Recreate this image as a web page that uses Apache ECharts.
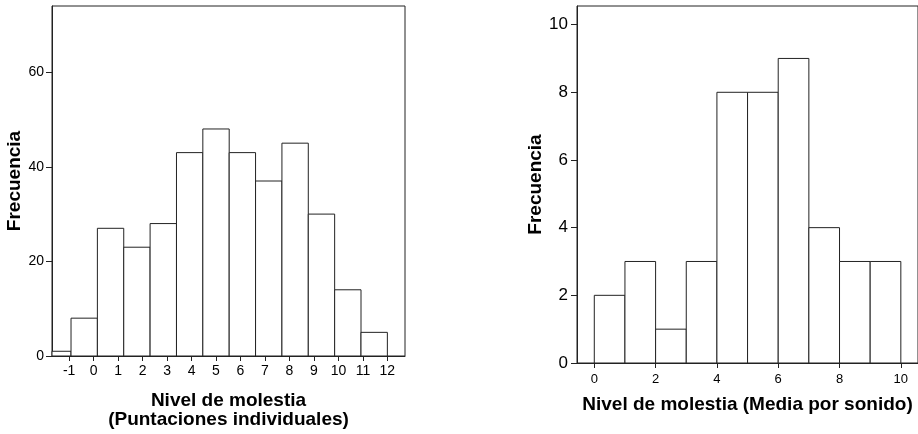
<!DOCTYPE html>
<html>
<head>
<meta charset="utf-8">
<script src="https://cdn.jsdelivr.net/npm/echarts@6/dist/echarts.min.js"></script>
<style>
  html, body { margin: 0; padding: 0; background: #fff; }
  #chart { width: 918px; height: 434px; }
</style>
</head>
<body>
<div id="chart"></div>
<script>
// puntuaciones individuales: 13 intervalos entre -2 y 12
const indivRange = [-2, 12]
const indivCounts = [1, 8, 27, 23, 28, 43, 48, 43, 37, 45, 30, 14, 5]
const indivXTicks = [-1, 0, 1, 2, 3, 4, 5, 6, 7, 8, 9, 10, 11, 12]
const indivYTicks = [0, 20, 40, 60]

// media por sonido: intervalos de ancho 1 entre 0 y 10
const mediaRange = [0, 10]
const mediaCounts = [2, 3, 1, 3, 8, 8, 9, 4, 3, 3]
const mediaXTicks = [0, 2, 4, 6, 8, 10]
const mediaYTicks = [0, 2, 4, 6, 8, 10]

const FONT = 'Liberation Sans, Arial, sans-serif'
const INK = '#222'

// [inicio, fin, frecuencia] para cada intervalo
function toBins(range, counts) {
  const w = (range[1] - range[0]) / counts.length
  return counts.map((c, i) => [range[0] + i * w, range[0] + (i + 1) * w, c])
}

function renderBin(params, api) {
  const p0 = api.coord([api.value(0), api.value(2)])
  const p1 = api.coord([api.value(1), 0])
  const cs = params.coordSys
  const shape = echarts.graphic.clipRectByRect(
    { x: p0[0], y: p0[1], width: p1[0] - p0[0], height: p1[1] - p0[1] },
    { x: cs.x, y: cs.y, width: cs.width, height: cs.height }
  )
  if (!shape) return
  return {
    type: 'rect',
    shape: shape,
    style: { fill: '#fff', stroke: INK, lineWidth: 1 }
  }
}

function xAxisOf(gridIndex, min, max, ticks, fontSize, margin, name, nameGap) {
  return {
    type: 'value',
    gridIndex: gridIndex,
    min: min,
    max: max,
    splitLine: { show: false },
    axisLine: { show: true, onZero: false, lineStyle: { color: INK, width: 1 } },
    axisTick: { show: true, length: 5, lineStyle: { color: INK }, customValues: ticks },
    axisLabel: {
      color: '#000', fontFamily: FONT, fontSize: fontSize, margin: margin,
      customValues: ticks
    },
    name: name,
    nameLocation: 'middle',
    nameGap: nameGap,
    nameTextStyle: {
      color: '#000', fontFamily: FONT, fontSize: 19, fontWeight: 'bold', lineHeight: 19
    }
  }
}

function yAxisOf(gridIndex, max, ticks, fontSize, margin, nameGap) {
  return {
    type: 'value',
    gridIndex: gridIndex,
    min: 0,
    max: max,
    splitLine: { show: false },
    axisLine: { show: true, onZero: false, lineStyle: { color: INK, width: 1 } },
    axisTick: { show: true, length: 6, lineStyle: { color: INK }, customValues: ticks },
    axisLabel: {
      color: '#000', fontFamily: FONT, fontSize: fontSize, margin: margin,
      customValues: ticks
    },
    name: 'Frecuencia',
    nameLocation: 'middle',
    nameGap: nameGap,
    nameTextStyle: { color: '#000', fontFamily: FONT, fontSize: 19, fontWeight: 'bold' }
  }
}

const chart = echarts.init(document.getElementById('chart'), null, { renderer: 'canvas' })

const option = {
  animation: false,
  backgroundColor: '#fff',
  grid: [
    { left: 52, top: 6, width: 353, height: 351, show: true, borderColor: INK, borderWidth: 1, containLabel: false },
    { left: 577, top: 6, width: 347, height: 357, show: true, borderColor: INK, borderWidth: 1, containLabel: false }
  ],
  xAxis: [
    xAxisOf(0, -1.70, 12.72, indivXTicks, 14, 8, 'Nivel de molestia\n(Puntaciones individuales)', 35),
    xAxisOf(1, -0.564, 10.56, mediaXTicks, 13, 10, 'Nivel de molestia (Media por sonido)', 32)
  ],
  yAxis: [
    yAxisOf(0, 74, indivYTicks, 14, 8, 26),
    yAxisOf(1, 10.55, mediaYTicks, 17, 9, 31)
  ],
  series: [
    {
      type: 'custom',
      xAxisIndex: 0,
      yAxisIndex: 0,
      renderItem: renderBin,
      encode: { x: [0, 1], y: 2 },
      data: toBins(indivRange, indivCounts)
    },
    {
      type: 'custom',
      xAxisIndex: 1,
      yAxisIndex: 1,
      renderItem: renderBin,
      encode: { x: [0, 1], y: 2 },
      data: toBins(mediaRange, mediaCounts)
    }
  ]
}

chart.setOption(option)
</script>
</body>
</html>
